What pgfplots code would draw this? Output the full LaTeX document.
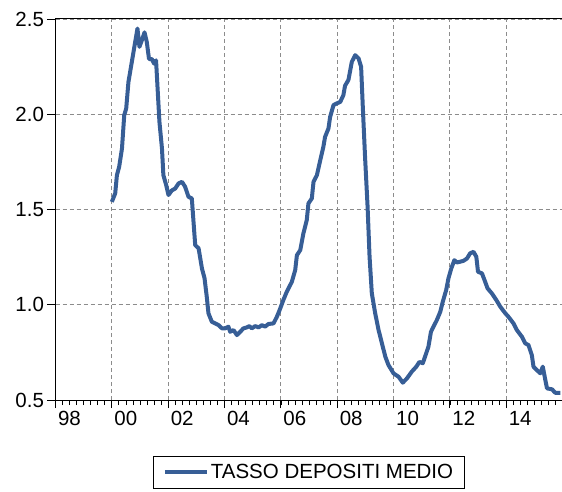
\documentclass[border=0pt]{standalone}
\usepackage{pgfplots}
\pgfplotsset{compat=1.18}
\usepackage{fontspec}
\setmainfont{Liberation Sans}
\definecolor{evblue}{RGB}{55,94,150}
\begin{document}
\begin{tikzpicture}
\useasboundingbox (0,0) rectangle (562pt,491pt);
\begin{axis}[
 at={(55.5pt,91pt)}, anchor=south west,
 scale only axis, width=507pt, height=381pt,
 xmin=1998, xmax=2016, ymin=0.5, ymax=2.5,
 xtick={1998,2000,...,2016},
 xticklabels={98,00,02,04,06,08,10,12,14,{}},
 minor xtick={1998.25,1998.5,...,2016},
 ytick={0.5,1.0,1.5,2.0,2.5},
 yticklabels={0.5,1.0,1.5,2.0,2.5},
 xtick pos=bottom, ytick pos=left, tick align=outside,
 major tick length=8pt, minor tick length=5pt,
 tick style={black, line width=0.8pt},
 minor tick style={black, line width=0.8pt},
 axis line style={black, line width=1pt},
 xmajorgrids, ymajorgrids,
 major grid style={black!45, dash pattern=on 4pt off 3pt, line width=0.7pt},
 ticklabel style={font=\fontsize{20.5}{24}\selectfont},
 xticklabel style={xshift=14pt},
 /pgf/number format/assume math mode=true,
 legend style={at={(axis description cs:0.5,-0.19)}, anchor=center,
   draw=black, line width=0.8pt, font=\fontsize{20.5}{24}\selectfont,
   inner xsep=9pt, inner ysep=6pt},
 legend image code/.code={\draw[#1, line width=4pt] (0pt,0pt) -- (42pt,0pt);},
 legend cell align=left,
]
\addplot[evblue, line width=4pt, line join=round] coordinates {
(2000.00,1.540) (2000.12,1.585) (2000.18,1.68) (2000.26,1.724) (2000.36,1.82)
(2000.44,1.995) (2000.51,2.03) (2000.59,2.17) (2000.71,2.275) (2000.83,2.38)
(2000.91,2.45) (2000.98,2.354) (2001.07,2.39) (2001.16,2.43) (2001.24,2.38)
(2001.32,2.29) (2001.42,2.29) (2001.50,2.266) (2001.57,2.283) (2001.63,2.12)
(2001.69,1.96) (2001.78,1.82) (2001.83,1.68) (2001.93,1.628) (2002.01,1.576)
(2002.13,1.60) (2002.25,1.61) (2002.37,1.637) (2002.49,1.645) (2002.60,1.62)
(2002.72,1.567) (2002.84,1.558) (2002.90,1.435) (2002.96,1.313) (2003.08,1.296)
(2003.20,1.19) (2003.29,1.14) (2003.37,1.042) (2003.43,0.955) (2003.55,0.911)
(2003.67,0.902) (2003.79,0.893) (2003.91,0.876) (2004.02,0.876) (2004.14,0.885)
(2004.20,0.858) (2004.32,0.867) (2004.44,0.841) (2004.56,0.858) (2004.67,0.876)
(2004.79,0.881) (2004.88,0.888) (2004.97,0.876) (2005.09,0.888) (2005.21,0.881)
(2005.33,0.893) (2005.44,0.885) (2005.56,0.899) (2005.74,0.902) (2005.86,0.937)
(2005.98,0.981) (2006.09,1.025) (2006.21,1.068) (2006.39,1.12) (2006.51,1.182)
(2006.57,1.26) (2006.69,1.287) (2006.80,1.374) (2006.92,1.444) (2006.98,1.532)
(2007.10,1.558) (2007.16,1.645) (2007.28,1.68) (2007.40,1.759) (2007.51,1.829)
(2007.57,1.881) (2007.69,1.925) (2007.75,1.986) (2007.87,2.048) (2007.99,2.057)
(2008.11,2.065) (2008.22,2.10) (2008.28,2.15) (2008.40,2.18) (2008.52,2.275)
(2008.64,2.31) (2008.76,2.293) (2008.85,2.249) (2008.91,2.039) (2008.99,1.776)
(2009.08,1.514) (2009.15,1.252) (2009.23,1.06) (2009.35,0.955) (2009.47,0.867)
(2009.59,0.797) (2009.71,0.727) (2009.82,0.684) (2010.00,0.64) (2010.18,0.622)
(2010.33,0.591) (2010.48,0.614) (2010.65,0.649) (2010.81,0.675) (2010.92,0.70)
(2011.04,0.693) (2011.16,0.745) (2011.24,0.78) (2011.33,0.858) (2011.42,0.885)
(2011.54,0.92) (2011.66,0.963) (2011.75,1.016) (2011.87,1.077) (2011.95,1.138)
(2012.05,1.19) (2012.16,1.234) (2012.25,1.222) (2012.37,1.226) (2012.49,1.231)
(2012.61,1.243) (2012.72,1.27) (2012.84,1.278) (2012.94,1.252) (2013.00,1.173)
(2013.14,1.165) (2013.23,1.13) (2013.34,1.086) (2013.49,1.06) (2013.65,1.025)
(2013.79,0.99) (2013.97,0.955) (2014.08,0.937) (2014.26,0.902) (2014.38,0.867)
(2014.56,0.832) (2014.68,0.797) (2014.79,0.789) (2014.91,0.736) (2014.97,0.675)
(2015.09,0.657) (2015.21,0.64) (2015.30,0.675) (2015.39,0.605) (2015.45,0.561)
(2015.63,0.556) (2015.74,0.538) (2015.92,0.538)
};
\addlegendentry{TASSO DEPOSITI MEDIO}
\end{axis}
\end{tikzpicture}
\end{document}
